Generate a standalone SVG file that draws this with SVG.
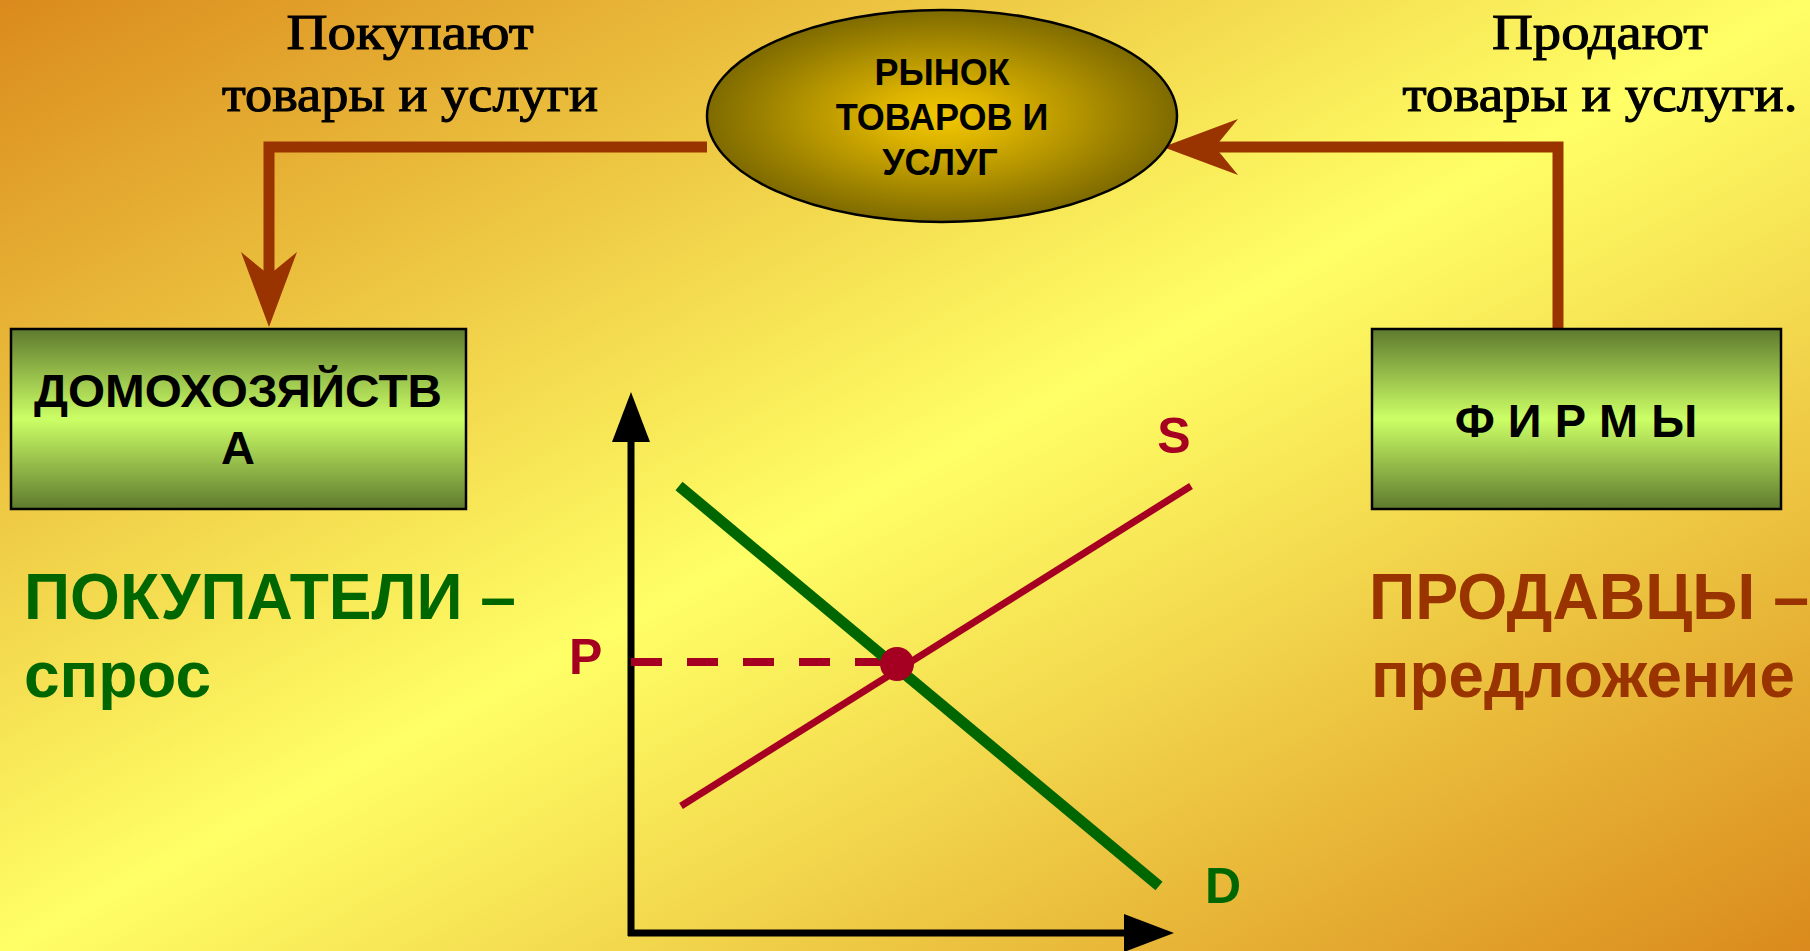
<svg xmlns="http://www.w3.org/2000/svg" width="1810" height="951" viewBox="0 0 1810 951">
  <style>
    .serif { font-family: "Liberation Serif", "Times New Roman", serif; font-size: 50px; fill: #000; stroke: #000; stroke-width: 1.1; }
    .bold { font-family: "Liberation Sans", Arial, sans-serif; font-weight: bold; }
    .mk { font-size: 36px; fill: #000; text-anchor: middle; }
    .box { fill: url(#boxGrad); stroke: #000; stroke-width: 2.5; }
    .boxtxt { font-size: 47px; fill: #000; text-anchor: middle; }
    .big { font-size: 64px; }
    .flow { fill: none; stroke: #993300; stroke-width: 11; stroke-linejoin: miter; }
    .axis { fill: none; stroke: #000; stroke-width: 7; }
    .lbl { font-size: 50px; }
  </style>
  <defs>
    <linearGradient id="bgGrad" x1="0" y1="0" x2="1" y2="1">
      <stop offset="0" stop-color="#DA8A1C"/>
      <stop offset="0.5" stop-color="#FFFF66"/>
      <stop offset="1" stop-color="#DA8A1C"/>
    </linearGradient>
    <radialGradient id="ellGrad" cx="0.5" cy="0.5" r="0.5">
      <stop offset="0" stop-color="#F2C800"/>
      <stop offset="0.25" stop-color="#DDB400"/>
      <stop offset="1" stop-color="#7E6A00"/>
    </radialGradient>
    <linearGradient id="boxGrad" x1="0" y1="0" x2="0" y2="1">
      <stop offset="0" stop-color="#5E7A2E"/>
      <stop offset="0.5" stop-color="#CCFF66"/>
      <stop offset="1" stop-color="#5E7A2E"/>
    </linearGradient>
    <marker id="flowHead" viewBox="0 0 75 56" refX="23" refY="28" markerWidth="75" markerHeight="56" markerUnits="userSpaceOnUse" orient="auto">
      <path d="M0,0 L75,28 L0,56 L23,28 Z" fill="#993300"/>
    </marker>
    <marker id="axisHead" viewBox="0 0 50 38" refX="0" refY="19" markerWidth="50" markerHeight="38" markerUnits="userSpaceOnUse" orient="auto">
      <path d="M0,0 L50,19 L0,38 Z" fill="#000"/>
    </marker>
  </defs>

  <rect id="background" x="0" y="0" width="1810" height="951" fill="url(#bgGrad)"/>

  <g id="label-buy">
    <text class="serif" x="410" y="49" text-anchor="middle" textLength="247" lengthAdjust="spacingAndGlyphs">Покупают</text>
    <text class="serif" x="410" y="111" text-anchor="middle" textLength="376" lengthAdjust="spacingAndGlyphs">товары и услуги</text>
  </g>
  <g id="label-sell">
    <text class="serif" x="1600" y="49" text-anchor="middle" textLength="216" lengthAdjust="spacingAndGlyphs">Продают</text>
    <text class="serif" x="1600" y="111" text-anchor="middle" textLength="395" lengthAdjust="spacingAndGlyphs">товары и услуги.</text>
  </g>

  <g id="connectors">
    <path class="flow" d="M707,147 H269 V275" marker-end="url(#flowHead)"/>
    <path class="flow" d="M1558,329 V147 H1215" marker-end="url(#flowHead)"/>
  </g>

  <g id="node-market">
    <ellipse cx="942" cy="116" rx="235" ry="106" fill="url(#ellGrad)" stroke="#000" stroke-width="2.5"/>
    <text class="bold mk" x="942" y="85">РЫНОК</text>
    <text class="bold mk" x="942" y="130">ТОВАРОВ И</text>
    <text class="bold mk" x="940" y="175">УСЛУГ</text>
  </g>

  <g id="node-households">
    <rect class="box" x="11" y="329" width="455" height="180"/>
    <text class="bold boxtxt" x="238" y="407" textLength="408" lengthAdjust="spacingAndGlyphs">ДОМОХОЗЯЙСТВ</text>
    <text class="bold boxtxt" x="238" y="464">А</text>
  </g>

  <g id="node-firms">
    <rect class="box" x="1372" y="329" width="409" height="180"/>
    <text class="bold boxtxt" x="1576" y="437">Ф И Р М Ы</text>
  </g>

  <g id="label-buyers">
    <text class="bold big" x="24" y="619" fill="#006600" textLength="492" lengthAdjust="spacingAndGlyphs">ПОКУПАТЕЛИ –</text>
    <text class="bold big" x="24" y="697" fill="#006600">спрос</text>
  </g>
  <g id="label-sellers">
    <text class="bold big" x="1369" y="619" fill="#993300" textLength="440" lengthAdjust="spacingAndGlyphs">ПРОДАВЦЫ –</text>
    <text class="bold big" x="1371" y="697" fill="#993300" textLength="424" lengthAdjust="spacingAndGlyphs">предложение</text>
  </g>

  <g id="chart">
    <line class="axis" x1="631" y1="936" x2="631" y2="442" marker-end="url(#axisHead)"/>
    <line class="axis" x1="628" y1="933" x2="1124" y2="933" marker-end="url(#axisHead)"/>
    <line x1="631" y1="662" x2="885" y2="662" stroke="#A50021" stroke-width="8" stroke-dasharray="31 25"/>
    <line x1="679" y1="486" x2="1159" y2="886" stroke="#006600" stroke-width="11"/>
    <line x1="681" y1="806" x2="1191" y2="486" stroke="#A50021" stroke-width="7"/>
    <circle cx="897" cy="664" r="17" fill="#A50021"/>
    <text class="bold lbl" x="569" y="674" fill="#A50021">P</text>
    <text class="bold lbl" x="1174" y="453" fill="#A50021" text-anchor="middle">S</text>
    <text class="bold lbl" x="1205" y="903" fill="#006600">D</text>
  </g>
</svg>
